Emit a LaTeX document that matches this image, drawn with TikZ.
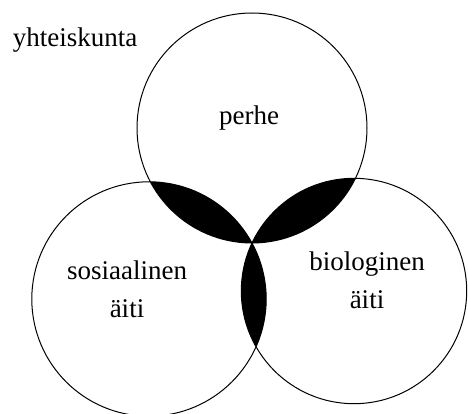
\documentclass[tikz,border=0pt]{standalone}
\usepackage{fontspec}
\setmainfont{Liberation Serif}
\tikzset{
  ring/.style={draw, line width=1pt},
  lbl/.style={font=\fontsize{27}{38}\selectfont, inner sep=0pt, align=center},
  every picture/.style={line cap=round, line join=round}
}

\begin{document}
\begin{tikzpicture}[x=1pt,y=-1pt]
  \useasboundingbox (0,0) rectangle (468,414);
  % circle centres
  \coordinate (perhe-c) at (252,128);
  \coordinate (sos-c) at (149,299);
  \coordinate (bio-c) at (354,291);
  % black overlaps
  \begin{scope}
    \clip (perhe-c) circle[radius=115pt];
    \fill (sos-c) circle[radius=117.2pt];
    \fill (bio-c) circle[radius=112.7pt];
  \end{scope}
  \begin{scope}
    \clip (sos-c) circle[radius=117.2pt];
    \fill (bio-c) circle[radius=112.7pt];
  \end{scope}
  \draw[ring] (perhe-c) circle[radius=115pt]
              (sos-c) circle[radius=117.2pt]
              (bio-c) circle[radius=112.7pt];
  \node[lbl, anchor=base] (yht) at (75,47) {yhteiskunta};
  \node[lbl, anchor=base] (perhe) at (249,125) {perhe};
  \node[lbl, anchor=base] (sos) at (127,317) {sosiaalinen\\äiti};
  \node[lbl, anchor=base] (bio) at (367,308) {biologinen\\äiti};
\end{tikzpicture}
\end{document}
